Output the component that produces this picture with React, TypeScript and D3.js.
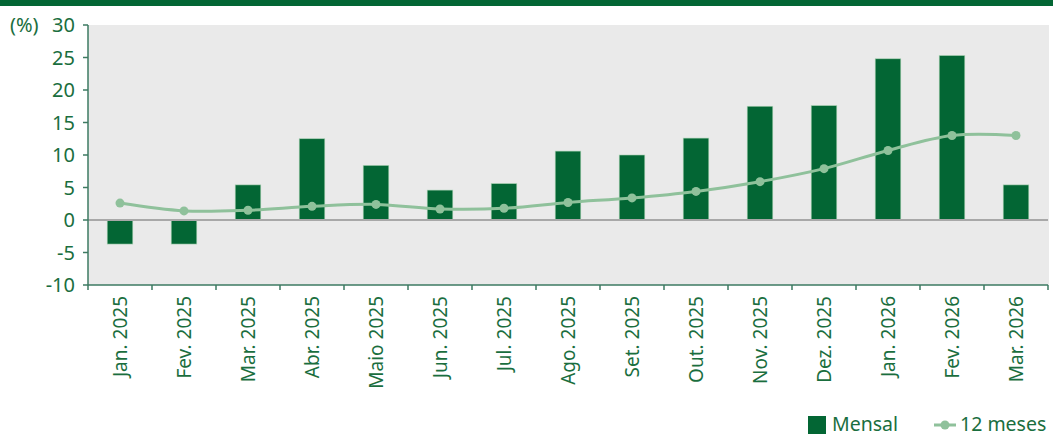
import React from "react";
import * as d3 from "d3";

const categories = ["Jan. 2025","Fev. 2025","Mar. 2025","Abr. 2025","Maio 2025","Jun. 2025","Jul. 2025","Ago. 2025","Set. 2025","Out. 2025","Nov. 2025","Dez. 2025","Jan. 2026","Fev. 2026","Mar. 2026"];
const mensal = [-3.7,-3.7,5.4,12.5,8.4,4.6,5.6,10.6,10.0,12.6,17.5,17.6,24.8,25.3,5.4];
const meses12 = [2.6,1.4,1.5,2.1,2.4,1.7,1.8,2.7,3.4,4.4,5.9,7.9,10.7,13.0,13.0];
const yTicks = [-10,-5,0,5,10,15,20,25,30];

const W = 1053, H = 436;
const L = 88, R = 1048, T = 25, B = 285;
const DARK = "#036634";
const LIGHT = "#8fc19b";
const TXT = "#1a6e3e";
const AX = "#3d7a62";
const FONT = "'Noto Sans', 'Open Sans', sans-serif";

export default function App() {
  const x = d3.scaleBand<string>().domain(categories).range([L, R]).paddingInner(0.6).paddingOuter(0.3);
  const xb = d3.scaleBand<string>().domain(categories).range([L, R]);
  const y = d3.scaleLinear().domain([-10, 30]).range([B, T]);
  const line = d3.line<number>()
    .x((_, i) => (xb(categories[i]) as number) + xb.bandwidth() / 2)
    .y((d) => y(d))
    .curve(d3.curveCatmullRom.alpha(0.5));
  const bounds = categories.map((c) => xb(c) as number).concat([R]);

  return (
    <svg width={W} height={H} style={{ position: "absolute", left: 0, top: 0, fontStretch: "semi-condensed" }} fontFamily={FONT}>
      <rect x={0} y={0} width={W} height={6} fill={DARK} />
      <rect x={L} y={T} width={R - L + 1} height={B - T} fill="#eaeaea" />
      {categories.map((c, i) => {
        const v = mensal[i];
        return (
          <rect key={c} x={x(c)} y={y(Math.max(0, v))} width={x.bandwidth()} height={Math.abs(y(v) - y(0))}
            fill={DARK} stroke="#a9d1b3" strokeWidth={0.6} />
        );
      })}
      <line x1={L} x2={R} y1={y(0)} y2={y(0)} stroke="#a8a8a8" strokeWidth={2} />
      <path d={line(meses12) || ""} fill="none" stroke={LIGHT} strokeWidth={3} />
      {meses12.map((v, i) => (
        <circle key={i} cx={(xb(categories[i]) as number) + xb.bandwidth() / 2} cy={y(v)} r={4.5} fill={LIGHT} />
      ))}
      {/* y axis */}
      <line x1={L} x2={L} y1={T} y2={B} stroke={AX} strokeWidth={1.5} />
      {yTicks.map((t) => (
        <g key={t}>
          <line x1={L - 5} x2={L} y1={y(t)} y2={y(t)} stroke={AX} strokeWidth={1.5} />
          <text x={L - 13} y={y(t)} dy="0.36em" textAnchor="end" fontSize={20} fill={TXT}>{t}</text>
        </g>
      ))}
      <text x={10} y={T} dy="0.36em" fontSize={20} fill={TXT}>(%)</text>
      {/* x axis */}
      <line x1={L} x2={R} y1={B} y2={B} stroke={AX} strokeWidth={1.5} />
      {bounds.map((b, i) => (
        <line key={i} x1={b} x2={b} y1={B} y2={B + 5} stroke={AX} strokeWidth={1.5} />
      ))}
      {categories.map((c) => {
        const cx = (xb(c) as number) + xb.bandwidth() / 2;
        return (
          <text key={c} transform={`translate(${cx + 7},${B + 11}) rotate(-90)`} textAnchor="end" fontSize={19} fill={TXT}>{c}</text>
        );
      })}
      {/* legend */}
      <rect x={808} y={416} width={18} height={18} fill={DARK} />
      <text x={832} y={424} dy="0.36em" fontSize={19.5} fill={TXT}>Mensal</text>
      <line x1={934} x2={956} y1={425} y2={425} stroke={LIGHT} strokeWidth={3} />
      <circle cx={945} cy={425} r={4.5} fill={LIGHT} />
      <text x={960} y={424} dy="0.36em" fontSize={19.5} fill={TXT}>12 meses</text>
    </svg>
  );
}
